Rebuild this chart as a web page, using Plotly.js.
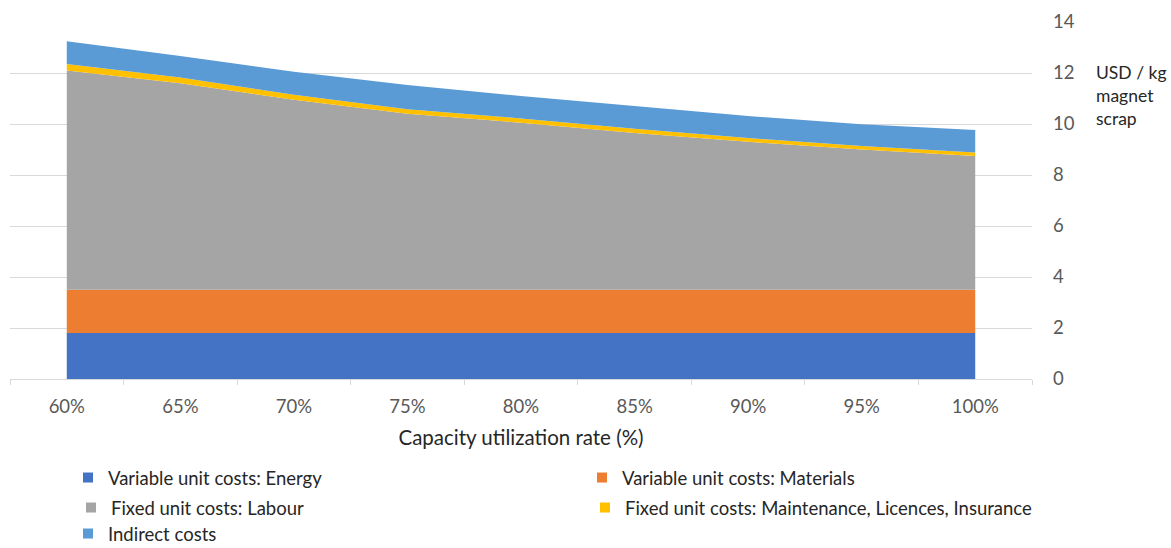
<!DOCTYPE html>
<html>
<head>
<meta charset="utf-8">
<script src="https://cdn.plot.ly/plotly-3.0.1.min.js"></script>
<style>html,body{margin:0;padding:0;background:#fff;}#chart{width:1171px;height:548px;}</style>
</head>
<body>
<div id="chart"></div>
<script>
const categories = ["60%", "65%", "70%", "75%", "80%", "85%", "90%", "95%", "100%"];
const energy      = [1.8, 1.8, 1.8, 1.8, 1.8, 1.8, 1.8, 1.8, 1.8];
const materials   = [1.7, 1.7, 1.7, 1.7, 1.7, 1.7, 1.7, 1.7, 1.7];
const labour      = [8.6, 8.1, 7.45, 6.9, 6.55, 6.15, 5.8, 5.5, 5.25];
const maintenance = [0.25, 0.22, 0.2, 0.18, 0.17, 0.16, 0.15, 0.14, 0.13];
const indirect    = [0.9, 0.85, 0.9, 0.95, 0.88, 0.9, 0.86, 0.85, 0.88];
const yTicks = [0, 2, 4, 6, 8, 10, 12, 14];

const series = [
  {name: "Variable unit costs: Energy", y: energy, color: "#4472c4"},
  {name: "Variable unit costs: Materials", y: materials, color: "#ed7d31"},
  {name: "Fixed unit costs: Labour", y: labour, color: "#a5a5a5"},
  {name: "Fixed unit costs: Maintenance, Licences, Insurance", y: maintenance, color: "#ffc000"},
  {name: "Indirect costs", y: indirect, color: "#5b9bd5"}
];
// legend placement: [left px, row centre px]
const legendPos = [[68, 478], [582, 478], [71, 508], [585, 508], [68, 534]];
const legendIds = ["legend", "legend2", "legend3", "legend4", "legend5"];

const traces = [];
series.forEach(s => {
  traces.push({
    type: "scatter", mode: "lines", x: categories, y: s.y, stackgroup: "one",
    fillcolor: s.color, line: {width: 0, color: s.color}, showlegend: false, hoverinfo: "x+y+name", name: s.name
  });
});
series.forEach((s, i) => {
  traces.push({
    type: "scatter", mode: "markers", x: [null], y: [null], name: s.name, legend: legendIds[i],
    marker: {symbol: "square", size: 10, color: s.color}, showlegend: true, hoverinfo: "skip"
  });
});

const font = "Lato, 'Open Sans', sans-serif";
const W = 1171, Hc = 548, H = 357;
function py(pix) { return (379 - pix) / H; }

const layout = {
  width: W, height: Hc,
  margin: {l: 10, r: 139, t: 22, b: 169, autoexpand: false},
  paper_bgcolor: "#fff", plot_bgcolor: "#fff",
  font: {family: font, color: "#595959", size: 16},
  xaxis: {
    type: "category", range: [-0.5, 8.5], fixedrange: true,
    showline: true, linecolor: "#d9d9d9", linewidth: 1,
    ticks: "outside", tickson: "boundaries", ticklen: 5, tickcolor: "#d9d9d9",
    showgrid: false, tickfont: {size: 18.5, color: "#595959"}, ticklabelstandoff: 11,
    title: {text: "Capacity utilization rate (%)", font: {size: 20.5, color: "#262626"}, standoff: 14}
  },
  yaxis: {
    side: "right", range: [0, 14], tickvals: yTicks, ticks: "", showline: false,
    zeroline: false, showgrid: true, gridcolor: "#d9d9d9", gridwidth: 1,
    tickfont: {size: 18.5, color: "#595959"}, ticklabelstandoff: 20, fixedrange: true
  },
  showlegend: true,
  annotations: [{
    xref: "paper", yref: "paper", x: (1094 - 10) / 1022, y: py(60), xanchor: "left", yanchor: "top",
    text: "USD / kg<br>magnet<br>scrap", align: "left", showarrow: false,
    font: {family: font, size: 17.5, color: "#262626"}
  }]
};
legendIds.forEach((id, i) => {
  layout[id] = {
    orientation: "v", xref: "container", yref: "container",
    x: legendPos[i][0] / W, y: 1 - legendPos[i][1] / Hc, xanchor: "left", yanchor: "middle",
    font: {family: font, size: 18.5, color: "#262626"}, bgcolor: "rgba(0,0,0,0)", itemwidth: 30
  };
});

Plotly.newPlot("chart", traces, layout, {displayModeBar: false, staticPlot: true});
</script>
</body>
</html>
